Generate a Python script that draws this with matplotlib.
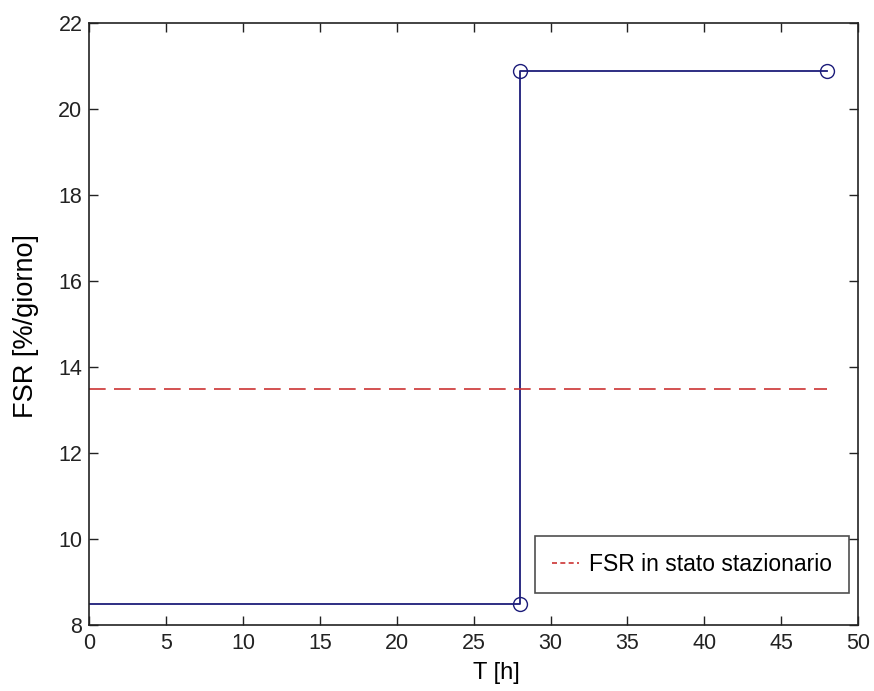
import matplotlib
matplotlib.use("Agg")
import matplotlib.pyplot as plt

plt.rcParams['font.family'] = ['Liberation Sans', 'DejaVu Sans']

t_hours = [0, 28, 28, 48]
fsr_values = [8.5, 8.5, 20.88, 20.88]
steady_t = [0, 48]
steady_fsr = [13.5, 13.5]
x_ticks = [0, 5, 10, 15, 20, 25, 30, 35, 40, 45, 50]
y_ticks = [8, 10, 12, 14, 16, 18, 20, 22]

fig = plt.figure(figsize=(8.74, 6.91), dpi=100)
ax = fig.add_axes([0.1022, 0.0955, 0.9817 - 0.1022, 0.9663 - 0.0955])

ax.plot(t_hours, fsr_values, color='#1c1c7a', linewidth=1.3, marker='o',
        markersize=10, markerfacecolor='none', markeredgecolor='#1c1c7a',
        markevery=[1, 2, 3])
ax.plot(steady_t, steady_fsr, color='#cc3333', linestyle=(0, (10, 5)), linewidth=1.2,
        label='FSR in stato stazionario')

ax.set_xlim(0, 50)
ax.set_ylim(8, 22)
ax.set_xticks(x_ticks)
ax.set_yticks(y_ticks)
ax.tick_params(direction='in', length=6.5, width=1, top=True, right=True,
               labelsize=15.5, colors='#222222')
ax.tick_params(axis='x', pad=6)
ax.tick_params(axis='y', pad=5)
for s in ax.spines.values():
    s.set_linewidth(1.2)
    s.set_color('#222222')

ax.set_xlabel('T [h]', fontsize=17)
ax.xaxis.set_label_coords(0.53, -0.062)
ax.set_ylabel('FSR [%/giorno]', fontsize=19.5)
ax.yaxis.set_label_coords(-0.066, 0.497)

leg = ax.legend(loc='lower right', fontsize=16.5, frameon=True, fancybox=False,
                handlelength=1.2, handletextpad=0.4, borderpad=0.75,
                borderaxespad=0, bbox_to_anchor=(0.988, 0.053))
leg.legend_handles[0].set_linestyle((0, (3, 2)))
leg.get_frame().set_edgecolor('#222222')
leg.get_frame().set_linewidth(1.2)

fig.savefig('out.png', dpi=100)
